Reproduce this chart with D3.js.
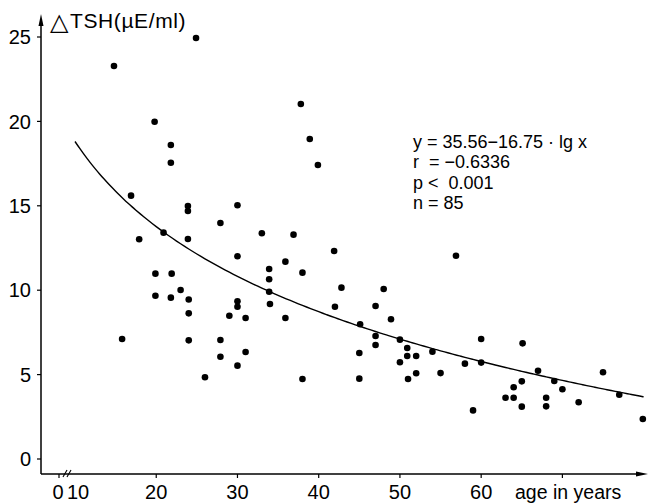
<!DOCTYPE html>
<html>
<head>
<meta charset="utf-8">
<script src="https://cdn.jsdelivr.net/npm/d3@7"></script>
<style>
  body { margin: 0; background: #fff; }
  svg { display: block; font-family: 'Liberation Sans', Arial, sans-serif; }
  .dot { fill: #000; }
  .fit { fill: none; stroke: #000; stroke-width: 1.4; }
  .axis-line { stroke: #000; stroke-width: 1.5; }
</style>
</head>
<body>
<div id="app"></div>
<script>
const width = 648;
const height = 503;

// age (years) and delta TSH (µE/ml)
const ages = [
  14.8, 24.9, 19.8, 21.8, 21.8, 16.9, 23.9, 23.9, 30.0, 27.9,
  33.0, 36.9, 17.9, 20.9, 23.9, 30.0, 41.9, 35.9, 33.9, 38.0,
  33.9, 19.9, 21.9, 23.0, 33.9, 42.8, 19.9, 21.8, 24.0, 30.0,
  30.0, 24.0, 29.0, 31.0, 34.0, 35.9, 42.0, 47.0, 45.1, 47.0,
  47.0, 24.0, 27.9, 27.9, 31.0, 30.0, 26.0, 38.0, 45.0, 45.0,
  56.9, 48.0, 48.9, 50.0, 50.9, 50.9, 52.0, 50.0, 54.0, 51.0,
  52.0, 55.0, 58.0, 60.0, 60.0, 59.0, 65.1, 64.0, 63.0, 64.0,
  65.0, 65.0, 67.0, 69.0, 70.0, 68.0, 68.0, 72.0, 75.0, 77.0,
  79.9, 15.8, 37.8, 38.9, 39.9
];
const tshValues = [
  23.28, 24.94, 19.98, 18.60, 17.55, 15.60, 14.99, 14.69, 15.03, 13.98,
  13.37, 13.29, 13.02, 13.41, 13.03, 12.01, 12.32, 11.69, 11.26, 11.04,
  10.65, 10.98, 10.98, 10.01, 9.91, 10.15, 9.67, 9.56, 9.45, 9.34,
  9.02, 8.63, 8.49, 8.35, 9.18, 8.35, 9.02, 9.06, 7.98, 7.29,
  6.75, 7.03, 7.05, 6.06, 6.34, 5.53, 4.84, 4.74, 6.28, 4.76,
  12.04, 10.07, 8.28, 7.07, 6.58, 6.10, 6.10, 5.73, 6.36, 4.74,
  5.08, 5.09, 5.65, 7.11, 5.71, 2.88, 6.85, 4.25, 3.63, 3.63,
  4.60, 3.10, 5.23, 4.62, 4.13, 3.63, 3.12, 3.36, 5.14, 3.81,
  2.37, 7.11, 21.03, 18.96, 17.42
];
const points = ages.map((age, i) => ({ age, tsh: tshValues[i] }));

const xTicks = [20, 30, 40, 50, 60, 70];
const xTickLabels = ['20', '30', '40', '50', '60', ''];
const yTicks = [0, 5, 10, 15, 20, 25];
const fitRange = [10, 80];
const statLines = ['y = 35.56\u221216.75 \u00b7 lg x', 'r  = \u22120.6336', 'p <  0.001', 'n = 85'];

const fit = x => 35.56 - 16.75 * Math.log10(x);

const svg = d3.select('#app').append('svg')
  .attr('width', width)
  .attr('height', height);

const x = d3.scaleLinear().domain([10, 70]).range([75, 562.4]);
const y = d3.scaleLinear().domain([0, 25]).range([459, 37]);

const originX = 41;
const originY = 474;

// axes with arrow heads
svg.append('line').classed('axis-line', true)
  .attr('x1', originX).attr('y1', originY).attr('x2', originX).attr('y2', 22);
svg.append('path').attr('d', `M${originX - 2.5},26 L${originX},14 L${originX + 2.5},26 Z`);

svg.append('line').classed('axis-line', true)
  .attr('x1', originX).attr('y1', originY).attr('x2', 640).attr('y2', originY);
svg.append('path').attr('d', `M636,${originY - 2.5} L648,${originY} L636,${originY + 2.5} Z`);

// axis break
[[63, 67], [67, 71]].forEach(([a, b]) => {
  svg.append('line').attr('x1', a).attr('y1', originY + 3).attr('x2', b).attr('y2', originY - 4)
    .attr('stroke', '#000').attr('stroke-width', 1.1);
});

// y ticks
yTicks.forEach(t => {
  svg.append('line').attr('x1', originX - 4).attr('x2', originX)
    .attr('y1', y(t)).attr('y2', y(t)).attr('stroke', '#000').attr('stroke-width', 1.2);
  svg.append('text').attr('x', 31).attr('y', y(t)).attr('dy', '0.36em')
    .attr('text-anchor', 'end').attr('font-size', 20).text(t);
});

// x ticks
xTicks.forEach((t, i) => {
  svg.append('line').attr('x1', x(t)).attr('x2', x(t))
    .attr('y1', originY).attr('y2', originY + 4).attr('stroke', '#000').attr('stroke-width', 1.2);
  svg.append('text').attr('x', x(t)).attr('y', 499)
    .attr('text-anchor', 'middle').attr('font-size', 20).text(xTickLabels[i]);
});
svg.append('line').attr('x1', 59).attr('x2', 59)
  .attr('y1', originY).attr('y2', originY + 4).attr('stroke', '#000').attr('stroke-width', 1.2);
svg.append('text').attr('x', 58).attr('y', 499).attr('text-anchor', 'middle').attr('font-size', 20).text('0');
svg.append('text').attr('x', 78).attr('y', 499).attr('text-anchor', 'middle').attr('font-size', 20).text('10');

svg.append('text').attr('x', 515).attr('y', 499).attr('font-size', 19.5).text('age in years');

// y axis title: outlined delta then unit
svg.append('text').attr('x', 50).attr('y', 30).attr('font-size', 24)
  .style('font-family', "'DejaVu Sans', sans-serif").text('\u25B3');
svg.append('text').attr('x', 70).attr('y', 28).attr('font-size', 21)
  .attr('letter-spacing', 0.6).text('TSH(\u00b5E/ml)');

// regression curve
const fitPoints = d3.range(fitRange[0], fitRange[1] + 0.01, 0.5);
svg.append('path').classed('fit', true)
  .datum(fitPoints)
  .attr('d', d3.line().x(d => x(d)).y(d => y(fit(d))).curve(d3.curveBasis));

// observations
svg.selectAll('.dot')
  .data(points)
  .enter().append('circle')
  .classed('dot', true)
  .attr('cx', d => x(d.age))
  .attr('cy', d => y(d.tsh))
  .attr('r', 3.3);

// statistics block
svg.append('g')
  .selectAll('text')
  .data(statLines)
  .enter().append('text')
  .attr('x', 413)
  .attr('y', (d, i) => 148 + i * 20.3)
  .attr('font-size', 18)
  .style('white-space', 'pre')
  .text(d => d);
</script>
</body>
</html>
